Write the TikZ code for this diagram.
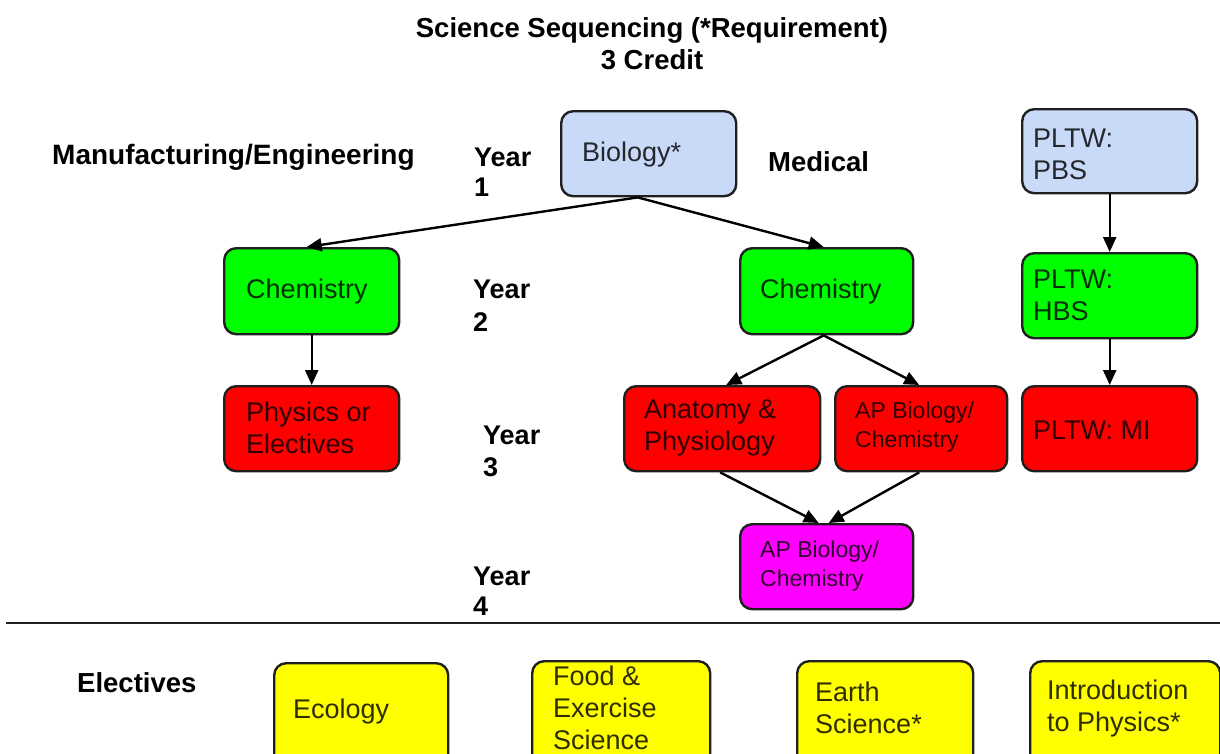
\documentclass[tikz,border=0pt]{standalone}
\usepackage{fontspec}
\setmainfont{Liberation Sans}
\usetikzlibrary{arrows.meta}
\definecolor{bluef}{HTML}{C9DAF8}
\definecolor{greenf}{HTML}{00FF00}
\definecolor{redf}{HTML}{FF0000}
\definecolor{magf}{HTML}{FF00FF}
\definecolor{yelf}{HTML}{FFFF00}
\definecolor{edge}{HTML}{1F1F1F}
\begin{document}
\begin{tikzpicture}[x=1pt,y=-1pt,
  box/.style={draw=edge, line width=2.4pt, rounded corners=12pt, inner sep=0pt, anchor=north west, minimum width=#1},
  box/.default=175pt,
  txt/.style={anchor=west, inner sep=0pt, align=left, text=black, text opacity=0.82, font=\fontsize{27}{32}\selectfont},
  stxt/.style={txt, font=\fontsize{23}{29}\selectfont},
  head/.style={anchor=west, inner sep=0pt, align=left, font=\fontsize{27.5}{31}\bfseries\selectfont},
  conn/.style={draw=black, line width=2.4pt, -{Triangle[length=15pt,width=13pt]}}
]
\useasboundingbox (0,0) rectangle (1220,753);
\clip (0,0) rectangle (1220,753);

% title
\node[font=\fontsize{27.5}{32}\bfseries\selectfont, align=center, inner sep=0pt] (title) at (652,44) {Science Sequencing (*Requirement)\\3 Credit};

% headings
\node[head, font=\fontsize{28}{31}\bfseries\selectfont] (manu) at (52,157) {Manufacturing/Engineering};
\node[head] (med) at (768,162) {Medical};
\node[head, font=\fontsize{27}{30}\bfseries\selectfont] (y1) at (474,172) {Year\\1};
\node[head, font=\fontsize{27}{33}\bfseries\selectfont] (y2) at (473,306) {Year\\2};
\node[head, font=\fontsize{27}{32}\bfseries\selectfont] (y3) at (483,451) {Year\\3};
\node[head, font=\fontsize{27}{30}\bfseries\selectfont] (y4) at (473,591) {Year\\4};
\node[head] (elec) at (77,683) {Electives};

% boxes
\node[box, fill=bluef, minimum height=85pt] (bio) at (560,110) {};
\node[box, fill=bluef, minimum height=84pt] (pbs) at (1021,108) {};
\node[box, fill=greenf, minimum height=86pt] (chemL) at (223,247) {};
\node[box, fill=greenf, minimum height=86pt, minimum width=173pt] (chemR) at (739,247) {};
\node[box, fill=greenf, minimum height=85pt] (hbs) at (1021,252) {};
\node[box, fill=redf, minimum height=85pt] (phys) at (223,385) {};
\node[box, fill=redf, minimum height=85pt, minimum width=196pt] (anat) at (623,385) {};
\node[box, fill=redf, minimum height=85pt, minimum width=172pt] (apred) at (834,385) {};
\node[box, fill=redf, minimum height=85pt] (mi) at (1021,385) {};
\node[box, fill=magf, minimum height=85pt, minimum width=173pt] (apmag) at (739,523) {};
\node[box, fill=yelf, minimum height=110pt, minimum width=174pt] (eco) at (273,662) {};
\node[box, fill=yelf, minimum height=110pt, minimum width=178pt] (food) at (531,660) {};
\node[box, fill=yelf, minimum height=110pt, minimum width=176pt] (earth) at (796,660) {};
\node[box, fill=yelf, minimum height=110pt, minimum width=190pt] (intro) at (1029,660) {};

% box texts
\node[txt] (tbio) at (582,155) {Biology*};
\node[txt] (tpbs) at (1033,154) {PLTW:\\PBS};
\node[txt] (tchemL) at (246,292) {Chemistry};
\node[txt] (tchemR) at (760,292) {Chemistry};
\node[txt] (thbs) at (1033,295) {PLTW:\\HBS};
\node[txt] (tphys) at (246,428) {Physics or\\Electives};
\node[txt] (tanat) at (644,428) {Anatomy \&\\Physiology};
\node[stxt] (tapred) at (855,427) {AP Biology/\\Chemistry};
\node[txt] (tmi) at (1033,430) {PLTW: MI};
\node[stxt] (tapmag) at (760,566) {AP Biology/\\Chemistry};
\node[txt] (teco) at (293,712) {Ecology};
\node[txt] (tfood) at (553,708) {Food \&\\Exercise\\Science};
\node[txt] (tearth) at (815,708) {Earth\\Science*};
\node[txt] (tintro) at (1047,709) {Introduction\\to Physics*};

% connectors
\draw[conn] ([xshift=-11pt]bio.south) -- ([xshift=-5pt]chemL.north);
\draw[conn] ([xshift=-11pt]bio.south) -- ([xshift=-3pt]chemR.north);
\draw[conn] (chemL.south) -- (phys.north);
\draw[conn] ([xshift=-3pt]chemR.south) -- ([xshift=4pt]anat.north);
\draw[conn] ([xshift=-3pt]chemR.south) -- ([xshift=-2pt]apred.north);
\draw[conn] ([xshift=-2pt]anat.south) -- ([xshift=-8pt]apmag.north);
\draw[conn] ([xshift=-2pt]apred.south) -- ([xshift=2pt]apmag.north);
\draw[conn] (pbs.south) -- (hbs.north);
\draw[conn] (hbs.south) -- (mi.north);

% separator
\draw[draw=edge, line width=2.4pt] (6,623) -- (1220,623);
\end{tikzpicture}
\end{document}
